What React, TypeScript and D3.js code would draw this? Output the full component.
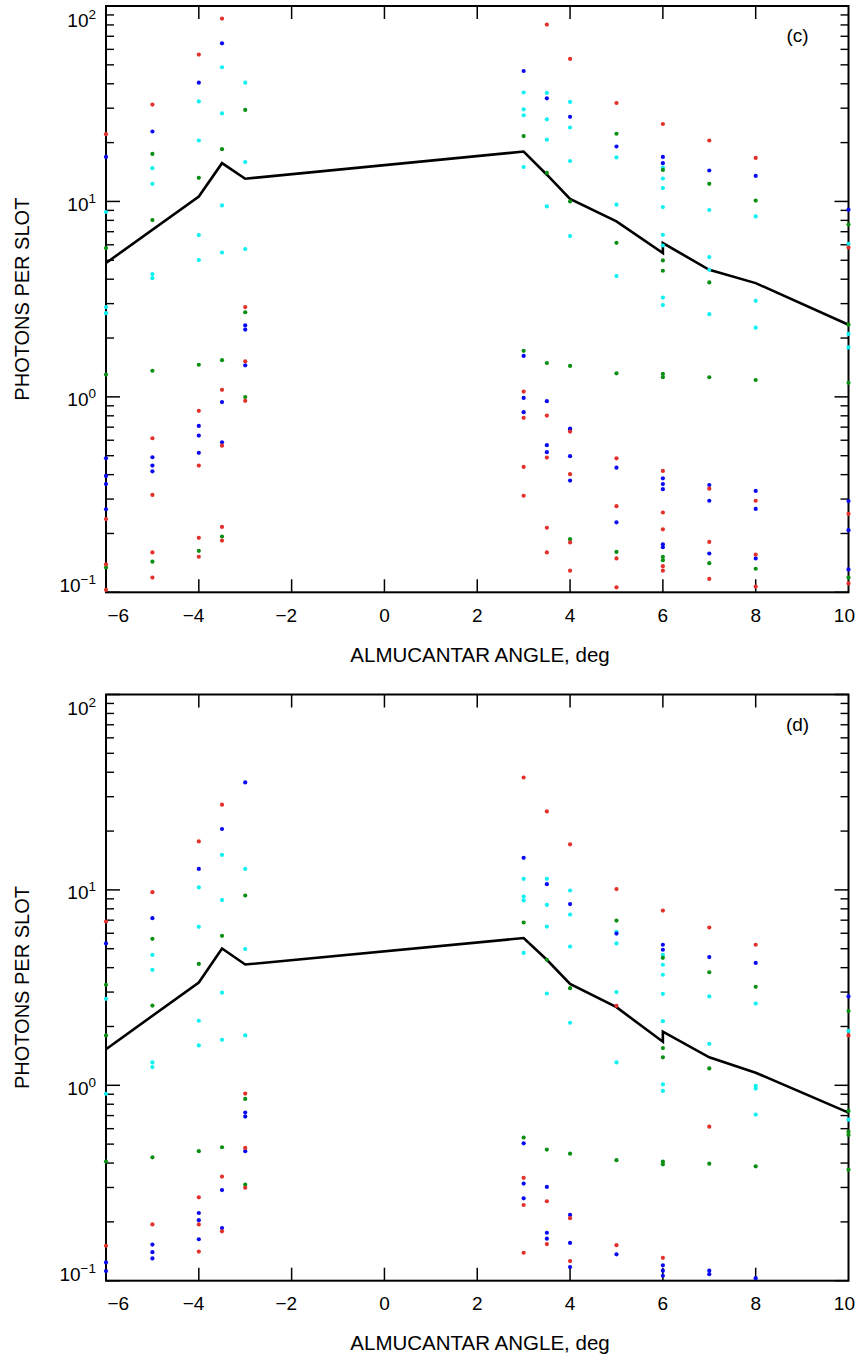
import React from 'react';
import * as d3 from 'd3';

type Pt = [number, number];

const xTicks: number[] = [-6, -4, -2, 0, 2, 4, 6, 8, 10];
const xTickLabels: string[] = ['−6', '−4', '−2', '0', '2', '4', '6', '8', '10'];
const yMajor: number[] = [0.1, 1, 10, 100];
const yExpLabels: string[] = ['−1', '0', '1', '2'];
const yMinorMult: number[] = [2, 3, 4, 5, 6, 7, 8, 9];
const yMinorBase: number[] = [0.1, 1, 10];

const cRed: Pt[] = [
  [-6, 22.1], [-6, 0.237], [-6, 0.139], [-6, 0.103],
  [-5, 31.3], [-5, 0.614], [-5, 0.315], [-5, 0.16], [-5, 0.119],
  [-4, 56.4], [-4, 0.848], [-4, 0.445], [-4, 0.19], [-4, 0.152],
  [-3.5, 86.2], [-3.5, 1.086], [-3.5, 0.563], [-3.5, 0.216], [-3.5, 0.184],
  [-3, 2.88], [-3, 1.52], [-3, 0.954],
  [3, 1.064], [3, 0.781], [3, 0.438], [3, 0.312],
  [3.5, 80.3], [3.5, 0.802], [3.5, 0.489], [3.5, 0.214], [3.5, 0.16],
  [4, 53.6], [4, 0.664], [4, 0.402], [4, 0.18], [4, 0.129],
  [5, 31.9], [5, 0.485], [5, 0.276], [5, 0.149], [5, 0.106],
  [6, 24.9], [6, 0.418], [6, 0.256], [6, 0.21], [6, 0.136], [6, 0.129],
  [7, 20.5], [7, 0.339], [7, 0.181], [7, 0.117],
  [8, 16.7], [8, 0.294], [8, 0.156], [8, 0.107],
  [10, 5.81], [10, 0.252], [10, 0.111],
];
const cBlue: Pt[] = [
  [-6, 16.9], [-6, 0.485], [-6, 0.394], [-6, 0.358], [-6, 0.266],
  [-5, 22.8], [-5, 0.491], [-5, 0.445], [-5, 0.416],
  [-4, 40.5], [-4, 0.71], [-4, 0.634], [-4, 0.517],
  [-3.5, 64.4], [-3.5, 0.94], [-3.5, 0.586],
  [-3, 2.32], [-3, 2.21], [-3, 1.45],
  [3, 46.5], [3, 1.62], [3, 0.988], [3, 0.835],
  [3.5, 33.7], [3.5, 0.951], [3.5, 0.566], [3.5, 0.521],
  [4, 27.1], [4, 0.688], [4, 0.681], [4, 0.497], [4, 0.373],
  [5, 19.1], [5, 0.434], [5, 0.228],
  [6, 16.9], [6, 15.7], [6, 0.383], [6, 0.358], [6, 0.337], [6, 0.176], [6, 0.17],
  [7, 14.4], [7, 0.354], [7, 0.294], [7, 0.158],
  [8, 13.5], [8, 0.33], [8, 0.267], [8, 0.149],
  [10, 9.07], [10, 0.293], [10, 0.208], [10, 0.131],
];
const cGreen: Pt[] = [
  [-6, 5.77], [-6, 1.3], [-6, 0.134],
  [-5, 17.5], [-5, 8.03], [-5, 1.36], [-5, 0.1435],
  [-4, 13.2], [-4, 1.46], [-4, 0.163],
  [-3.5, 18.5], [-3.5, 1.54], [-3.5, 0.193],
  [-3, 29.4], [-3, 2.71], [-3, 0.997],
  [3, 21.6], [3, 1.72],
  [3.5, 14.0], [3.5, 1.49],
  [4, 10.0], [4, 1.44], [4, 0.187],
  [5, 22.2], [5, 6.14], [5, 1.32], [5, 0.161],
  [6, 14.5], [6, 4.99], [6, 4.42], [6, 1.31], [6, 1.26], [6, 0.152], [6, 0.146],
  [7, 12.3], [7, 3.85], [7, 1.26], [7, 0.141],
  [8, 10.1], [8, 1.22], [8, 0.132],
  [10, 7.62], [10, 2.34], [10, 1.18], [10, 0.119],
];
const cCyan: Pt[] = [
  [-6, 8.83], [-6, 2.88], [-6, 2.68],
  [-5, 14.8], [-5, 12.3], [-5, 4.25], [-5, 4.05],
  [-4, 32.5], [-4, 20.5], [-4, 6.73], [-4, 5.01],
  [-3.5, 48.6], [-3.5, 28.2], [-3.5, 9.54], [-3.5, 5.48],
  [-3, 40.5], [-3, 15.9], [-3, 5.71],
  [3, 36.1], [3, 29.6], [3, 27.6], [3, 15.0],
  [3.5, 35.9], [3.5, 26.3], [3.5, 20.7], [3.5, 9.43],
  [4, 32.3], [4, 23.9], [4, 16.1], [4, 6.65],
  [5, 16.8], [5, 9.62], [5, 4.15],
  [6, 14.9], [6, 13.1], [6, 11.7], [6, 9.36], [6, 6.75], [6, 5.95], [6, 3.22], [6, 2.95],
  [7, 9.04], [7, 5.19], [7, 4.47], [7, 2.65],
  [8, 8.38], [8, 3.1], [8, 2.26],
  [10, 6.07], [10, 2.1], [10, 1.79],
];
const cLine: Pt[] = [
  [-6, 4.84], [-4, 10.6], [-3.5, 15.7], [-3, 13.07], [3, 18.0], [3.5, 13.7], [4, 10.29],
  [5, 7.9], [6, 5.44], [6, 6.12], [7, 4.47], [8, 3.82], [10, 2.34],
];

const dRed: Pt[] = [
  [-6, 6.89], [-6, 0.151],
  [-5, 9.74], [-5, 0.194],
  [-4, 17.7], [-4, 0.267], [-4, 0.194], [-4, 0.141],
  [-3.5, 27.3], [-3.5, 0.341], [-3.5, 0.179],
  [-3, 0.907], [-3, 0.478], [-3, 0.299],
  [3, 37.6], [3, 0.336], [3, 0.244], [3, 0.139],
  [3.5, 25.2], [3.5, 0.255], [3.5, 0.154],
  [4, 17.1], [4, 0.209], [4, 0.126],
  [5, 10.1], [5, 2.55], [5, 0.152],
  [6, 7.84], [6, 0.131],
  [7, 6.42], [7, 0.614],
  [8, 5.24],
  [10, 1.8],
];
const dBlue: Pt[] = [
  [-6, 5.32], [-6, 0.124], [-6, 0.112],
  [-5, 7.17], [-5, 0.153], [-5, 0.14], [-5, 0.13],
  [-4, 12.8], [-4, 0.222], [-4, 0.204], [-4, 0.163],
  [-3.5, 20.5], [-3.5, 0.291], [-3.5, 0.186],
  [-3, 35.5], [-3, 0.725], [-3, 0.692], [-3, 0.46],
  [3, 14.6], [3, 0.505], [3, 0.314], [3, 0.264],
  [3.5, 10.7], [3.5, 0.302], [3.5, 0.176], [3.5, 0.164],
  [4, 8.46], [4, 0.217], [4, 0.156], [4, 0.1175],
  [5, 5.98], [5, 0.1365],
  [6, 5.24], [6, 4.94], [6, 0.12], [6, 0.1125], [6, 0.106],
  [7, 4.53], [7, 0.1125], [7, 0.108],
  [8, 4.23], [8, 0.103],
  [10, 2.85],
];
const dGreen: Pt[] = [
  [-6, 3.27], [-6, 1.8], [-6, 0.407],
  [-5, 5.62], [-5, 2.56], [-5, 0.428],
  [-4, 4.18], [-4, 0.46],
  [-3.5, 5.82], [-3.5, 0.482],
  [-3, 9.36], [-3, 0.852], [-3, 0.31],
  [3, 6.81], [3, 0.54],
  [3.5, 4.39], [3.5, 0.469],
  [4, 3.14], [4, 0.447],
  [5, 6.97], [5, 0.414],
  [6, 4.49], [6, 1.55], [6, 1.39], [6, 0.407], [6, 0.394],
  [7, 3.79], [7, 1.22], [7, 0.397],
  [8, 3.19], [8, 0.385],
  [10, 2.4], [10, 0.739], [10, 0.579], [10, 0.557], [10, 0.37],
];
const dCyan: Pt[] = [
  [-6, 2.77], [-6, 0.904],
  [-5, 4.65], [-5, 3.9], [-5, 1.31], [-5, 1.24],
  [-4, 10.3], [-4, 6.47], [-4, 2.14], [-4, 1.6],
  [-3.5, 15.1], [-3.5, 8.87], [-3.5, 2.98], [-3.5, 1.71],
  [-3, 12.8], [-3, 4.98], [-3, 1.8],
  [3, 11.4], [3, 9.25], [3, 8.83], [3, 4.76],
  [3.5, 11.4], [3.5, 8.39], [3.5, 6.49], [3.5, 2.95],
  [4, 9.93], [4, 7.48], [4, 5.13], [4, 2.09],
  [5, 6.1], [5, 5.32], [5, 3.0], [5, 1.31],
  [6, 4.65], [6, 4.14], [6, 3.68], [6, 2.94], [6, 2.13], [6, 1.01], [6, 0.936],
  [7, 2.85], [7, 1.63],
  [8, 2.62], [8, 0.993], [8, 0.962], [8, 0.708],
  [10, 1.9], [10, 0.667],
];
const dLine: Pt[] = [
  [-6, 1.53], [-4, 3.36], [-3.5, 5.01], [-3, 4.15], [3, 5.67], [3.5, 4.39], [4, 3.3],
  [5, 2.51], [6, 1.67], [6, 1.88], [7, 1.39], [8, 1.16], [10, 0.725],
];

const COLORS = { red: '#e3302a', blue: '#0a0af2', green: '#0b8f12', cyan: '#0ff0f0' };
const FONT = '"Liberation Sans", Arial, Helvetica, sans-serif';

type PanelProps = {
  top: number; bottom: number; tag: string;
  red: Pt[]; blue: Pt[]; green: Pt[]; cyan: Pt[]; line: Pt[];
};

function Panel({ top, bottom, tag, red, blue, green, cyan, line }: PanelProps) {
  const left = 106, right = 848.5;
  const x = d3.scaleLinear().domain([-6, 10]).range([left, right]);
  const y = d3.scaleLog().domain([0.1, 100]).range([bottom, top]);
  const lineGen = d3.line<Pt>().x(d => x(d[0])).y(d => y(d[1]));
  const minors: number[] = [];
  yMinorBase.forEach(b => yMinorMult.forEach(m => minors.push(b * m)));
  const series: [Pt[], string][] = [[cyan, COLORS.cyan], [green, COLORS.green], [blue, COLORS.blue], [red, COLORS.red]];
  const midY = (top + bottom) / 2;
  return (
    <g>
      {/* minor y ticks */}
      {minors.map((v, i) => (
        <g key={'m' + i}>
          <line x1={left} x2={left + 8} y1={y(v)} y2={y(v)} stroke="#000" strokeWidth={1.4} />
          <line x1={right} x2={right - 8} y1={y(v)} y2={y(v)} stroke="#000" strokeWidth={1.4} />
        </g>
      ))}
      {yMajor.map((v, i) => (
        <g key={'M' + i}>
          <line x1={left} x2={left + 14} y1={y(v)} y2={y(v)} stroke="#000" strokeWidth={1.5} />
          <line x1={right} x2={right - 14} y1={y(v)} y2={y(v)} stroke="#000" strokeWidth={1.5} />
          <text
            x={96}
            y={y(v) + (i === 0 ? 0 : i === yMajor.length - 1 ? 20.5 : 9.5)}
            textAnchor="end" fontFamily={FONT} fontSize={19} fill="#000"
          >
            10<tspan dy={-8} fontSize={13.5}>{yExpLabels[i]}</tspan>
          </text>
        </g>
      ))}
      {xTicks.map((v, i) => {
        const last = i === xTicks.length - 1;
        const first = i === 0;
        const neg = v < 0;
        let tx = x(v), anchor: 'start' | 'middle' | 'end' = 'middle';
        if (first) { tx = left + 1.5; anchor = 'start'; }
        else if (last) { tx = 855; anchor = 'end'; }
        else if (neg) { tx = x(v) + 5.5; anchor = 'end'; }
        return (
          <g key={'x' + i}>
            {!first && !last && (
              <>
                <line x1={x(v)} x2={x(v)} y1={bottom} y2={bottom - 13} stroke="#000" strokeWidth={1.5} />
                <line x1={x(v)} x2={x(v)} y1={top} y2={top + 13} stroke="#000" strokeWidth={1.5} />
              </>
            )}
            <text x={tx} y={bottom + 29.4} textAnchor={anchor} fontFamily={FONT} fontSize={19} fill="#000">
              {xTickLabels[i]}
            </text>
          </g>
        );
      })}
      <rect x={left} y={top} width={right - left} height={bottom - top} fill="none" stroke="#000" strokeWidth={2} />
      <text x={480} y={bottom + 69.4} textAnchor="middle" fontFamily={FONT} fontSize={20.5} fill="#000">
        ALMUCANTAR ANGLE, deg
      </text>
      <text
        transform={`translate(29,${midY}) rotate(-90)`}
        textAnchor="middle" fontFamily={FONT} fontSize={20} fill="#000"
      >
        PHOTONS PER SLOT
      </text>
      <text x={797.5} y={top + 36} textAnchor="middle" fontFamily={FONT} fontSize={19} fill="#000">{tag}</text>
      <path d={lineGen(line) || ''} fill="none" stroke="#000" strokeWidth={2.6} strokeLinejoin="miter" />
      {series.map(([pts, col], si) => (
        <g key={'s' + si}>
          {pts.map((p, j) => (
            <circle key={j} cx={x(p[0])} cy={y(p[1])} r={2.1} fill={col} />
          ))}
        </g>
      ))}
    </g>
  );
}

export default function App() {
  return (
    <svg width={856} height={1356} style={{ position: 'absolute', left: 0, top: 0, background: '#fff' }}>
      <rect x={0} y={0} width={856} height={1356} fill="#fff" />
      <Panel top={6} bottom={592.3} tag="(c)" red={cRed} blue={cBlue} green={cGreen} cyan={cCyan} line={cLine} />
      <Panel top={694.5} bottom={1280.7} tag="(d)" red={dRed} blue={dBlue} green={dGreen} cyan={dCyan} line={dLine} />
    </svg>
  );
}
